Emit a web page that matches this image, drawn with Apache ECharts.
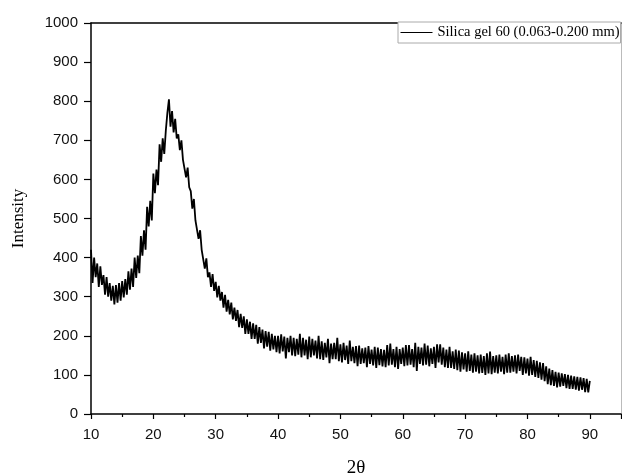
<!DOCTYPE html>
<html>
<head>
<meta charset="utf-8">
<script src="https://cdn.jsdelivr.net/npm/echarts@6/dist/echarts.min.js"></script>
<style>
  html, body { margin: 0; padding: 0; background: #fff; }
  #chart { width: 622px; height: 475px; }
</style>
</head>
<body>
<div id="chart"></div>
<script>
// 2θ scan: first angle and step (degrees)
const startAngle = 10;
const angleStep = 0.25;

// intensity, 4 values per degree (10 .. 90),
// alternating the upper and lower edge of the noisy trace
const intensity = [
  420, 335, 400, 350,   385, 325, 378, 330,   355, 305, 350, 300,   335, 290, 328, 280,
  330, 285, 335, 290,   340, 298, 345, 305,   365, 318, 372, 325,   400, 348, 405, 360,
  455, 405, 470, 420,   530, 480, 545, 495,   615, 565, 625, 585,   690, 645, 705, 665,
  725, 770, 805, 735,   775, 720, 755, 705,   715, 675, 700, 650,   648, 605, 630, 580,
  570, 525, 550, 495,   490, 448, 470, 420,   415, 372, 398, 350,   362, 325, 358, 315,
  338, 298, 328, 290,   312, 272, 305, 262,   292, 255, 285, 242,   272, 238, 266, 222,
  256, 220, 250, 205,   242, 205, 236, 192,   232, 192, 228, 180,   222, 182, 216, 168,
  212, 172, 210, 162,   205, 165, 200, 158,   200, 155, 204, 160,   198, 142, 195, 158,
  200, 150, 195, 148,   192, 152, 205, 145,   195, 150, 190, 140,   198, 145, 192, 150,
  188, 142, 200, 140,   186, 138, 182, 145,   192, 130, 180, 140,   182, 140, 195, 135,
  178, 132, 182, 138,   175, 128, 188, 135,   172, 130, 174, 122,   175, 128, 168, 130,
  170, 120, 174, 128,   165, 124, 172, 118,   170, 125, 166, 122,   164, 120, 176, 124,
  180, 126, 166, 120,   172, 115, 166, 128,   170, 122, 176, 124,   176, 126, 166, 120,
  182, 110, 172, 128,   170, 124, 180, 126,   175, 122, 168, 128,   172, 118, 178, 132,
  178, 126, 170, 120,   165, 118, 172, 118,   160, 115, 165, 112,   162, 108, 158, 114,
  155, 108, 160, 110,   152, 106, 155, 108,   150, 104, 152, 105,   148, 100, 155, 104,
  160, 102, 148, 106,   150, 104, 152, 108,   146, 102, 152, 106,   155, 106, 148, 108,
  150, 104, 152, 110,   146, 100, 145, 104,   142, 98, 146, 100,    138, 95, 136, 92,
  132, 88, 130, 84,     122, 76, 116, 74,     112, 72, 108, 68,     106, 70, 104, 72,
  102, 66, 100, 64,     98, 64, 96, 62,       95, 60, 94, 62,       92, 56, 90, 55,
  85
];

const seriesName = 'Silica gel 60 (0.063-0.200 mm)';

const points = intensity.map((v, i) => [startAngle + i * angleStep, v]);

const chart = echarts.init(document.getElementById('chart'), null, { renderer: 'canvas' });

const tickFont = { fontFamily: 'Liberation Sans, Arial, sans-serif', fontSize: 15, color: '#111' };
const serif = 'Liberation Serif, Times New Roman, serif';

chart.setOption({
  animation: false,
  backgroundColor: '#fff',
  grid: { left: 91, right: 1, top: 23, bottom: 61, outerBoundsMode: 'none', containLabel: false },
  legend: {
    left: 398, top: 22,
    backgroundColor: '#fff',
    borderColor: '#aaa', borderWidth: 1,
    padding: [3, 1, 3, 2],
    itemWidth: 32, itemHeight: 12, itemGap: 0,
    itemStyle: { opacity: 0 },
    lineStyle: { color: '#000', width: 1 },
    textStyle: { fontFamily: serif, fontSize: 14.5, color: '#000' },
    data: [seriesName]
  },
  xAxis: [{
    type: 'value', min: 10, max: 95, interval: 10,
    name: '2θ', nameLocation: 'middle', nameGap: 45,
    nameTextStyle: { fontFamily: serif, fontSize: 19, color: '#000' },
    axisLine: { lineStyle: { color: '#000', width: 1.5 } },
    axisTick: { inside: false, length: 5, lineStyle: { color: '#000', width: 1.2 } },
    minorTick: { show: true, splitNumber: 2, length: 3, lineStyle: { color: '#000', width: 1.2 } },
    axisLabel: Object.assign({ margin: 13, showMaxLabel: false }, tickFont),
    splitLine: { show: false }
  }, {
    type: 'value', position: 'top', min: 10, max: 95,
    axisLine: { show: true, onZero: false, lineStyle: { color: '#000', width: 1.5 } },
    axisTick: { show: false }, axisLabel: { show: false }, splitLine: { show: false }
  }],
  yAxis: [{
    type: 'value', min: 0, max: 1000, interval: 100,
    name: 'Intensity', nameLocation: 'middle', nameGap: 64,
    nameTextStyle: { fontFamily: serif, fontSize: 17, color: '#000' },
    axisLine: { show: true, lineStyle: { color: '#000', width: 1.5 } },
    axisTick: { show: true, inside: false, length: 7, lineStyle: { color: '#000', width: 1.2 } },
    axisLabel: Object.assign({ margin: 13, formatter: v => String(v) }, tickFont),
    splitLine: { show: false }
  }, {
    type: 'value', position: 'right', min: 0, max: 1000,
    axisLine: { show: true, onZero: false, lineStyle: { color: '#bbb', width: 1 } },
    axisTick: { show: false }, axisLabel: { show: false }, splitLine: { show: false }
  }],
  series: [{
    name: seriesName,
    type: 'line',
    data: points,
    symbol: 'none',
    lineStyle: { color: '#000', width: 1.8 },
    itemStyle: { color: '#000' }
  }]
});
</script>
</body>
</html>
